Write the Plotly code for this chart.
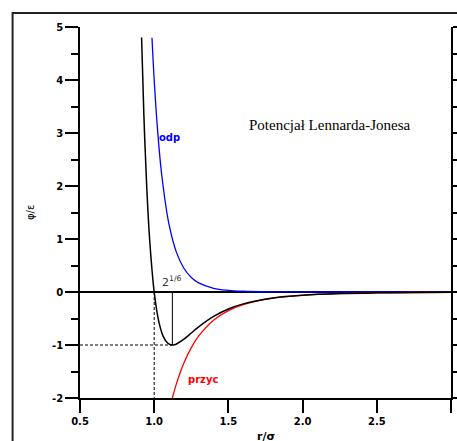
import plotly.graph_objects as go

# Lennard-Jones potential values (r in sigma, phi in epsilon)
r_total = [0.915, 0.93, 0.95, 0.97, 1.0, 1.03, 1.06, 1.09, 1.11, 1.1225, 1.135, 1.15,
           1.2, 1.25, 1.3, 1.4, 1.5, 1.6, 1.8, 2.0, 2.25, 2.5, 2.75, 3.0]
phi_total = [4.80, 3.373, 1.961, 0.963, 0.0, -0.544, -0.832, -0.963, -0.995, -1.0, -0.996, -0.982,
             -0.891, -0.774, -0.657, -0.461, -0.320, -0.224, -0.114, -0.0615, -0.0306, -0.0163, -0.0092, -0.0055]

r_rep = [0.985, 1.0, 1.02, 1.05, 1.1, 1.15, 1.2, 1.25, 1.3, 1.4, 1.5, 1.6, 1.8, 2.0, 2.5, 3.0]
phi_rep = [4.796, 4.0, 3.154, 2.227, 1.2745, 0.7476, 0.4486, 0.2749, 0.1717, 0.0706, 0.0308,
           0.0142, 0.0035, 0.00098, 0.0001, 0.0]

r_att = [1.1225, 1.15, 1.2, 1.25, 1.3, 1.4, 1.5, 1.6, 1.8, 2.0, 2.25, 2.5, 2.75, 3.0]
phi_att = [-2.0, -1.729, -1.3396, -1.0486, -0.8287, -0.5312, -0.3512, -0.2384, -0.1176,
           -0.0625, -0.0308, -0.0164, -0.0092, -0.0055]

r_min = 1.1225      # 2^(1/6)
phi_min = -1.0
r_zero = 1.0
x_range = [0.5, 3.0]
y_range = [-2, 5]
y_tickvals = [-2, -1, 0, 1, 2, 3, 4, 5]
y_ticktext = ["-2", "-1", "0", "1", "2", "3", "4", "5"]

fig = go.Figure()

fig.add_trace(go.Scatter(x=[x_range[0], r_min], y=[phi_min, phi_min], mode="lines",
                         line=dict(color="black", width=1, dash="3px,2px"), hoverinfo="skip"))
fig.add_trace(go.Scatter(x=[r_zero, r_zero], y=[0, y_range[0]], mode="lines",
                         line=dict(color="black", width=1, dash="3px,2px"), hoverinfo="skip"))
fig.add_trace(go.Scatter(x=[r_min, r_min], y=[0, phi_min], mode="lines",
                         line=dict(color="black", width=1), hoverinfo="skip"))

fig.add_trace(go.Scatter(x=r_rep, y=phi_rep, mode="lines", line=dict(color="blue", width=1.3, shape="spline")))
fig.add_trace(go.Scatter(x=r_att, y=phi_att, mode="lines", line=dict(color="red", width=1.3, shape="spline")))
fig.add_trace(go.Scatter(x=r_total, y=phi_total, mode="lines", line=dict(color="black", width=1.5, shape="spline")))

tickfont = dict(family="DejaVu Sans", size=10, color="black", weight="bold")

fig.update_layout(
    xaxis=dict(range=x_range, dtick=0.5, tick0=0.5, tickformat=".1f", automargin=False,
               ticks="outside", ticklen=13, tickwidth=2, tickcolor="black",
               showline=True, linecolor="black", linewidth=1.8,
               showgrid=False, zeroline=False, tickfont=tickfont),
    yaxis=dict(range=y_range, tickmode="array", tickvals=y_tickvals, ticktext=y_ticktext, automargin=False,
               ticks="outside", ticklen=13, tickwidth=2, tickcolor="black",
               showline=True, linecolor="black", linewidth=1.8, mirror="ticks",
               showgrid=False, zeroline=True, zerolinecolor="black", zerolinewidth=1.5,
               tickfont=tickfont,
               minor=dict(dtick=0.5, ticks="outside", ticklen=7, tickwidth=2, tickcolor="black")),
    width=457, height=441, autosize=False,
    margin=dict(l=80, r=6, t=27, b=43),
    paper_bgcolor="white", plot_bgcolor="white",
    showlegend=False,
    shapes=[dict(type="rect", xref="paper", yref="paper", x0=-0.1817, x1=1.3, y0=-0.4, y1=1.0377,
                 fillcolor="rgba(0,0,0,0)", layer="below",
                 line=dict(color="#222", width=2))],
    annotations=[
        dict(text="Potencjał Lennarda-Jonesa", x=2.182, y=3.15, xref="x", yref="y", showarrow=False,
             font=dict(family="Liberation Serif", size=15, color="black")),
        dict(text="odp", x=1.105, y=2.906, xref="x", yref="y", showarrow=False,
             font=dict(family="DejaVu Sans", size=10, color="blue", weight="bold")),
        dict(text="przyc", x=1.328, y=-1.66, xref="x", yref="y", showarrow=False,
             font=dict(family="DejaVu Sans", size=10, color="red", weight="bold")),
        dict(text="2<sup>1/6</sup>", x=1.119, y=0.19, xref="x", yref="y", showarrow=False,
             font=dict(family="DejaVu Sans", size=11, color="#333")),
        dict(text="φ/ε", x=-0.152, y=0.4987, xref="paper", yref="paper", showarrow=False, textangle=-90,
             font=dict(family="DejaVu Sans", size=10, color="black")),
        dict(text="r/σ", x=0.5, y=-0.081, xref="paper", yref="paper", yanchor="top", showarrow=False,
             font=dict(family="DejaVu Sans", size=11, color="black", weight="bold")),
    ],
)

fig.write_html("out.html", config={"displayModeBar": False},
               post_script="document.body.style.margin='0';document.body.style.overflow='hidden';")
